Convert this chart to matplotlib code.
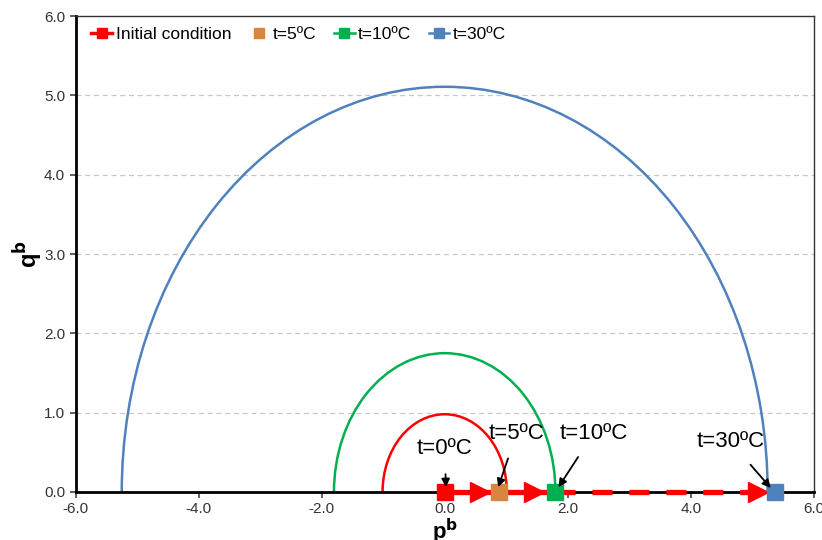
import matplotlib.pyplot as plt
from matplotlib.patches import Arc
from matplotlib.lines import Line2D

plt.rcParams['font.family'] = ['Liberation Sans', 'DejaVu Sans']

# points on the p axis (initial, 5, 10, 30 degC)
labels = ["Initial condition", "t=5ºC", "t=10ºC", "t=30ºC"]
p_pts = [0.0, 0.89, 1.79, 5.37]
q_pts = [0.0, 0.0, 0.0, 0.0]
colors = ["#FF0000", "#D9843F", "#00B050", "#4F81BD"]

# yield ellipses: centre, half width, height
curve_colors = ["#FF0000", "#00B050", "#4F81BD"]
curve_center = [0.0, 0.0, 0.0]
curve_halfw = [1.01, 1.80, 5.25]
curve_height = [0.98, 1.75, 5.11]

# red path arrows
path_solid_x = [0.0, 1.79]
path_dash_x = [1.79, 5.37]
arrow_heads_x = [0.57, 1.45, 5.1]

# annotations
ann_text = ["t=0ºC", "t=5ºC", "t=10ºC", "t=30ºC"]
ann_xy = [(0.02, 0.06), (0.87, 0.06), (1.85, 0.06), (5.3, 0.05)]
ann_text_xy = [(0.0, 0.55), (1.17, 0.74), (2.42, 0.74), (4.65, 0.63)]

fig = plt.figure(figsize=(8.22, 5.4), dpi=100)
ax = fig.add_axes([0.092, 0.089, 0.898, 0.881])

ax.set_xlim(-6, 6)
ax.set_ylim(0, 6)

for y in [1, 2, 3, 4, 5]:
    ax.axhline(y, color="#C8C8C8", lw=0.9, ls=(0, (4, 3)), zorder=0)

for c, cx, hw, h in zip(curve_colors, curve_center, curve_halfw, curve_height):
    ax.add_patch(Arc((cx, 0), 2 * hw, 2 * h, theta1=0, theta2=180,
                     color=c, lw=1.8, zorder=2))

# red path
ax.plot(path_solid_x, [0, 0], color="#FF0000", lw=3.8, zorder=4,
        solid_capstyle="butt", clip_on=False)
ax.plot(path_dash_x, [0, 0], color="#FF0000", lw=3.8, zorder=4,
        dashes=(3.8, 3.2), clip_on=False)
ax.plot(arrow_heads_x, [0] * len(arrow_heads_x), ls="none", marker=">",
        markersize=14, color="#FF0000", zorder=4, clip_on=False)

for x, y, c in zip(p_pts, q_pts, colors):
    ax.plot(x, y, ls="none", marker="s", markersize=11.5, color=c,
            zorder=5, clip_on=False)

for t, xy, txy in zip(ann_text, ann_xy, ann_text_xy):
    ax.annotate(t, xy=xy, xytext=txy, fontsize=16, ha="center", va="center",
                arrowprops=dict(arrowstyle="-|>", color="black", lw=1.3,
                                shrinkA=9, shrinkB=0, mutation_scale=12),
                zorder=6)

ax.set_xticks([-6, -4, -2, 0, 2, 4, 6])
ax.set_yticks([0, 1, 2, 3, 4, 5, 6])
ax.set_xticklabels([f"{v:.1f}" for v in ax.get_xticks()])
ax.set_yticklabels([f"{v:.1f}" for v in ax.get_yticks()])
ax.tick_params(labelsize=11, length=4, width=1.2, color="#444444",
               labelcolor="#333333")

ax.set_xlabel("p$^\\mathbf{b}$", fontsize=16, fontweight="bold", labelpad=0)
ax.set_ylabel("q$^\\mathbf{b}$", fontsize=17, fontweight="bold", labelpad=-1)

for s in ["left", "bottom"]:
    ax.spines[s].set_linewidth(2.0)
    ax.spines[s].set_color("black")
for s in ["top", "right"]:
    ax.spines[s].set_linewidth(1.0)
    ax.spines[s].set_color("#333333")

handles = [
    Line2D([], [], color=colors[0], lw=2.5, marker="s", markersize=7),
    Line2D([], [], ls="none", color=colors[1], marker="s", markersize=7),
    Line2D([], [], color=colors[2], lw=1.8, marker="s", markersize=7),
    Line2D([], [], color=colors[3], lw=1.8, marker="s", markersize=7),
]
ax.legend(handles, labels, loc="upper left", bbox_to_anchor=(0.0, 1.01),
          ncol=4, frameon=False, fontsize=12.5, handlelength=1.2,
          handletextpad=0.2, columnspacing=1.0)

fig.savefig("out.png", dpi=100)
